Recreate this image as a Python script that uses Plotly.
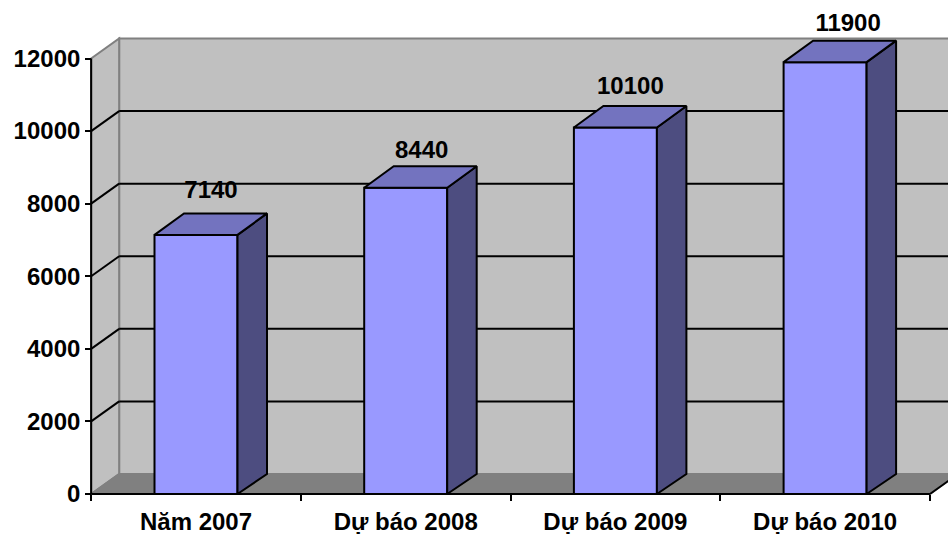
import plotly.graph_objects as go

categories = ["Năm 2007", "Dự báo 2008", "Dự báo 2009", "Dự báo 2010"]
values = [7140, 8440, 10100, 11900]
y_ticks = [0, 2000, 4000, 6000, 8000, 10000, 12000]

W, H = 948, 534
X0_PX, STEP_PX = 196.0, 209.7      # pixel of first category centre, px per category
Y0_PX, PX_PER_UNIT = 494.0, 435.5 / 12000

def ux(px):
    return px / STEP_PX
def uy(px):
    return px / PX_PER_UNIT

x_range = [(0 - X0_PX) / STEP_PX, (W - X0_PX) / STEP_PX]
y_range = [-(H - Y0_PX) / PX_PER_UNIT, Y0_PX / PX_PER_UNIT]

BAR_W = 83 / STEP_PX
DX, DY = ux(28), uy(20)            # depth of the walls
BDX, BDY = ux(29.5), uy(21.5)      # depth of the bars
xl, xr = -0.5, len(categories) - 0.5
ymax = y_ticks[-1]

WALL, FLOOR, EDGE = "#C0C0C0", "#808080", "#808080"
FRONT, TOP, SIDE = "#9999FF", "#7373BF", "#4D4D80"
FONT = dict(family="Liberation Sans, Arial, sans-serif", size=24, color="black", weight=700)

def poly(pts, fill, line, width=2):
    d = "M " + " L ".join(f"{x},{y}" for x, y in pts) + " Z"
    return dict(type="path", path=d, xref="x2", yref="y", layer="below",
                fillcolor=fill, line=dict(color=line, width=width))

def seg(x0, y0, x1, y1, color="black", width=2):
    return dict(type="line", x0=x0, y0=y0, x1=x1, y1=y1, xref="x2", yref="y", layer="below",
                line=dict(color=color, width=width))

shapes = [
    poly([(xl + DX, DY), (xr + DX, DY), (xr + DX, ymax + DY), (xl + DX, ymax + DY)], WALL, EDGE),
    poly([(xl, 0), (xl + DX, DY), (xl + DX, ymax + DY), (xl, ymax)], WALL, EDGE),
    poly([(xl, 0), (xl + DX, DY), (xr + DX, DY), (xr, 0)], FLOOR, EDGE),
]
for t in y_ticks[1:-1]:
    shapes.append(seg(xl, t, xl + DX, t + DY))
    shapes.append(seg(xl + DX, t + DY, xr + DX, t + DY))
shapes += [
    seg(xl, 0, xl, ymax),
    seg(xl, 0, xr, 0),
    seg(xr, 0, xr + DX, DY),
]

fig = go.Figure()
fig.add_trace(go.Bar(x=categories, y=values, width=BAR_W, xaxis="x", yaxis="y",
                     marker=dict(color=FRONT, line=dict(color="black", width=2)),
                     showlegend=False, hoverinfo="skip"))

for i, v in enumerate(values):
    a, b = i - BAR_W / 2, i + BAR_W / 2
    top_x = [a, b, b + BDX, a + BDX, a]
    top_y = [v, v, v + BDY, v + BDY, v]
    side_x = [b, b + BDX, b + BDX, b, b]
    side_y = [0, DY, v + BDY, v, 0]
    for xs, ys, col in ((side_x, side_y, SIDE), (top_x, top_y, TOP)):
        fig.add_trace(go.Scatter(x=xs, y=ys, xaxis="x2", yaxis="y", mode="lines", fill="toself",
                                 fillcolor=col, line=dict(color="black", width=2),
                                 showlegend=False, hoverinfo="skip"))

nudge_x = [15, 16, 15, 23]
nudge_y = [42.5, 36, 39.5, 37]
fig.add_trace(go.Scatter(
    x=[i + ux(n) for i, n in enumerate(nudge_x)],
    y=[v + uy(n) for v, n in zip(values, nudge_y)],
    text=[str(v) for v in values], mode="text", textposition="middle center",
    textfont=FONT, xaxis="x2", yaxis="y", showlegend=False, hoverinfo="skip"))

fig.update_layout(
    width=W, height=H, margin=dict(l=0, r=0, t=0, b=0, autoexpand=False),
    paper_bgcolor="white", plot_bgcolor="white", barmode="overlay",
    shapes=shapes, showlegend=False,
    xaxis=dict(type="category", categoryorder="array", categoryarray=categories,
               range=x_range, domain=[0, 1], anchor="free", position=(H - Y0_PX) / H,
               tickson="boundaries", ticks="outside", ticklen=6, tickwidth=2, tickcolor="black",
               showgrid=False, zeroline=False, showline=False, tickfont=FONT, tickangle=0,
               ticklabelstandoff=11, automargin=False),
    xaxis2=dict(type="linear", overlaying="x", range=x_range, visible=False, anchor="y"),
    yaxis=dict(range=y_range, domain=[0, 1], anchor="free", position=(X0_PX + xl * STEP_PX) / W,
               tickmode="array", tickvals=y_ticks, ticktext=[str(t) for t in y_ticks],
               ticks="outside", ticklen=6, tickwidth=2, tickcolor="black",
               showgrid=False, zeroline=False, showline=False, tickfont=FONT, automargin=False),
)

fig.write_html("out.html", config=dict(displayModeBar=False),
               post_script="document.body.style.margin='0';document.documentElement.style.overflow='hidden';")
